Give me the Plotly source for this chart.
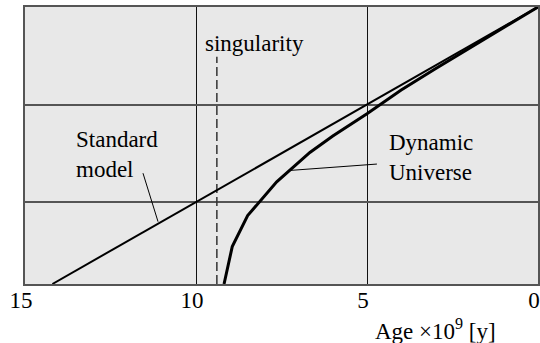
import plotly.graph_objects as go

# ages in 10^9 years, relative size (0..1)
std_age = [14.2, 0.0]
std_size = [0.0, 1.0]

dyn_age = [9.18, 8.94, 8.49, 7.64, 6.67, 6.0, 5.0, 4.0, 3.0, 2.0, 1.0, 0.0]
dyn_size = [0.0, 0.135, 0.247, 0.369, 0.475, 0.534, 0.615, 0.700, 0.777, 0.852, 0.927, 1.0]

singularity_age = 9.39
singularity_top = 0.82

x_ticks = [15, 10, 5, 0]
y_grid = [0.296, 0.648]

FONT = "Liberation Serif, Times New Roman, serif"
label_font = dict(family=FONT, size=23, color="black")

fig = go.Figure()

fig.add_trace(go.Scatter(x=[singularity_age, singularity_age], y=[0, singularity_top],
                         mode="lines", line=dict(color="#333", width=1.5, dash="9px,4px"),
                         hoverinfo="skip"))
fig.add_trace(go.Scatter(x=std_age, y=std_size, mode="lines",
                         line=dict(color="black", width=2), name="Standard model"))
fig.add_trace(go.Scatter(x=dyn_age, y=dyn_size, mode="lines",
                         line=dict(color="black", width=3), name="Dynamic Universe"))

# leader lines
fig.add_shape(type="line", xref="x", yref="y", x0=11.55, y0=0.40, x1=11.11, y1=0.225,
              line=dict(color="black", width=1))
fig.add_shape(type="line", xref="x", yref="y", x0=7.25, y0=0.41, x1=4.71, y1=0.433,
              line=dict(color="black", width=1))

fig.add_annotation(x=8.29, y=0.87, xref="x", yref="y", text="singularity",
                   showarrow=False, font=label_font)
fig.add_annotation(x=13.57, y=0.466, xref="x", yref="y", text="Standard<br>model",
                   showarrow=False, xanchor="left", align="left", font=label_font)
fig.add_annotation(x=4.42, y=0.455, xref="x", yref="y", text="Dynamic<br>Universe",
                   showarrow=False, xanchor="left", align="left", font=label_font)
fig.add_annotation(x=0.80, y=-0.166, xref="paper", yref="paper",
                   xanchor="center", yanchor="middle",
                   text="Age \u00d710<sup>9</sup> [y]", showarrow=False,
                   font=label_font)

fig.update_xaxes(range=[15, 0], tickvals=x_ticks, ticktext=[str(t) for t in x_ticks],
                 showgrid=True, gridcolor="#111", gridwidth=1,
                 showline=True, linecolor="#555", linewidth=2, mirror=True,
                 zeroline=False, ticks="", tickfont=label_font,
                 automargin=False, ticklabelstandoff=-6, ticklabeloverflow="allow",
                 ticklabelshift=4)
fig.update_yaxes(range=[0, 1], tickvals=y_grid, showticklabels=False,
                 showgrid=True, gridcolor="#555", gridwidth=1.5,
                 showline=True, linecolor="#555", linewidth=2, mirror=True,
                 zeroline=False, ticks="", automargin=False)

fig.update_layout(width=540, height=343, showlegend=False,
                  margin=dict(l=25, r=2, t=7, b=59),
                  plot_bgcolor="#e8e8e8", paper_bgcolor="white",
                  font=label_font)

fig.write_html("out.html", config={"responsive": False, "displayModeBar": False},
               post_script="document.body.style.margin='0';")
